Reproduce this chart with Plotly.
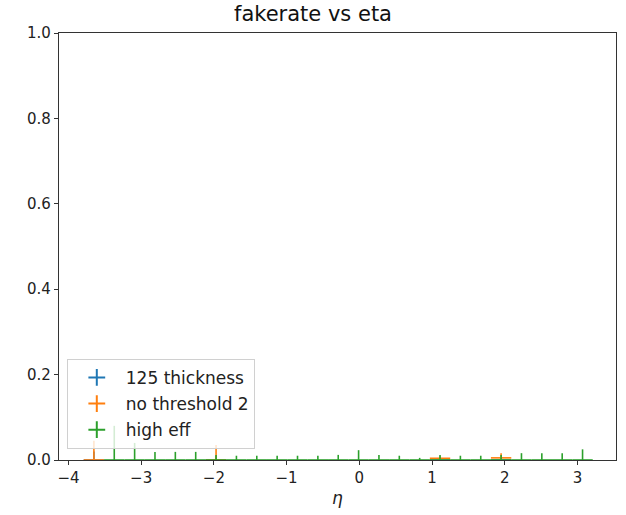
import plotly.graph_objects as go

# eta bin centres (bin width 0.28)
eta_high_eff = [-3.37, -3.09, -2.81, -2.53, -2.25, -1.97, -1.69, -1.41, -1.13, -0.85,
                -0.57, -0.29, -0.01, 0.27, 0.55, 0.83, 1.11, 1.39, 1.67, 1.95,
                2.23, 2.51, 2.79, 3.07]
fake_high_eff = [0.0] * 24
err_high_eff = [0.08, 0.04, 0.019, 0.019, 0.019, 0.012, 0.010, 0.010, 0.010, 0.010,
                 0.010, 0.012, 0.023, 0.012, 0.010, 0.005, 0.012, 0.010, 0.010, 0.012,
                 0.016, 0.016, 0.016, 0.025]

eta_no_thr = [-3.65, -1.97, 1.11, 1.95]
fake_no_thr = [0.0, 0.0, 0.004, 0.005]
err_no_thr = [0.045, 0.035, 0.004, 0.011]

eta_125 = [-3.65, -1.97, 1.11, 1.95]
fake_125 = [0.0, 0.0, 0.0, 0.0]
err_125 = [0.02, 0.01, 0.003, 0.005]

half_bin = 0.14

series = [
    ("125 thickness", "#1f77b4", eta_125, fake_125, err_125),
    ("no threshold 2", "#ff7f0e", eta_no_thr, fake_no_thr, err_no_thr),
    ("high eff", "#2ca02c", eta_high_eff, fake_high_eff, err_high_eff),
]

fig = go.Figure()
for name, color, xs, ys, es in series:
    fig.add_trace(go.Scatter(
        x=xs, y=ys, mode="markers", name=name, showlegend=False,
        marker=dict(size=1, color=color, opacity=0),
        error_y=dict(type="data", array=es, color=color, thickness=1.6, width=0),
        error_x=dict(type="constant", value=half_bin, color=color, thickness=1.6, width=0),
    ))
# legend handles drawn as crosses
for name, color, xs, ys, es in series:
    fig.add_trace(go.Scatter(
        x=[None], y=[None], mode="markers", name=name, legendgroup=name,
        marker=dict(symbol="cross-thin", size=18, line=dict(color=color, width=1.6)),
    ))

fig.update_layout(
    width=626, height=515,
    margin=dict(l=59, r=10, t=33, b=55),
    plot_bgcolor="white", paper_bgcolor="white",
    font=dict(family="DejaVu Sans", size=15, color="#222"),
    title=dict(text="fakerate vs eta", x=0.5, xanchor="center", y=0.973, yanchor="middle",
               font=dict(size=21, color="#111")),
    showlegend=True,
    legend=dict(x=0.014, y=0.026, xanchor="left", yanchor="bottom",
                bgcolor="rgba(255,255,255,0.8)", bordercolor="#d0d0d0", borderwidth=1,
                font=dict(size=17, color="#222"), tracegroupgap=1, itemsizing="constant",
                itemwidth=48),
)
fig.update_xaxes(
    range=[-4.13, 3.53], tickmode="array", tickvals=[-4, -3, -2, -1, 0, 1, 2, 3],
    showgrid=False, zeroline=False, showline=True, linecolor="#333", linewidth=1.2,
    mirror=True, ticks="outside", ticklen=4, tickcolor="#333",
    tickfont=dict(size=15),
    title=dict(text="<i>η</i>", font=dict(size=17), standoff=6),
)
fig.update_yaxes(
    range=[0, 1], tickmode="array", tickvals=[0, 0.2, 0.4, 0.6, 0.8, 1.0], tickformat=".1f",
    showgrid=False, zeroline=False, showline=True, linecolor="#333", linewidth=1.2,
    mirror=True, ticks="outside", ticklen=4, tickcolor="#333",
    tickfont=dict(size=15),
)

fig.write_html("out.html")
